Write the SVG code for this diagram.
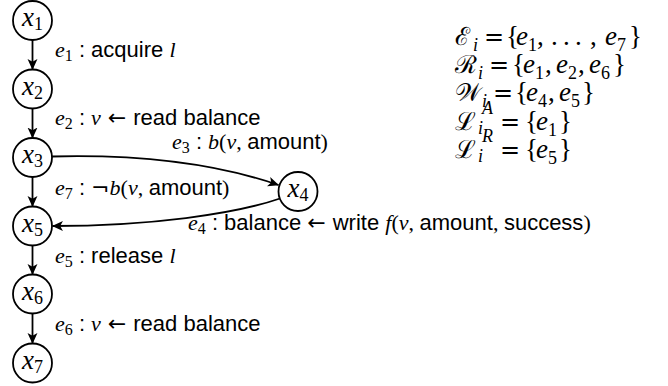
<svg xmlns="http://www.w3.org/2000/svg" width="668" height="386" viewBox="0 0 668 386">
<style>
.node{fill:#fff;stroke:#000;stroke-width:1.8}
.edge{fill:none;stroke:#000;stroke-width:1.8}
text{fill:#000}
.m{font-family:"Liberation Serif","DejaVu Serif",serif;font-style:italic}
.r{font-family:"Liberation Serif","DejaVu Serif",serif;font-style:normal}
.s{font-family:"Liberation Sans","DejaVu Sans",sans-serif;font-style:normal}
.a{font-family:"DejaVu Sans",sans-serif;font-style:normal}
.lbl{font-size:22px}
.nl{font-size:27px;text-anchor:middle}
.sub{font-size:16px;font-style:normal}
.nsub{font-size:18px;font-style:normal}
.set{font-size:27px}
.ssub{font-size:18px}
.eq{font-family:"DejaVu Serif",serif;font-size:24px}
.cal{font-family:"DejaVu Serif","Liberation Serif",serif;font-size:25px;font-style:normal}
</style>
<defs>
<marker id="ah" viewBox="0 0 10 10" refX="9.5" refY="5" markerWidth="11" markerHeight="11" markerUnits="userSpaceOnUse" orient="auto">
<path d="M0,0.5 L10,5 L0,9.5 L2.5,5 Z" fill="#000"/>
</marker>
</defs>
<g id="connectors">
<line class="edge" x1="32.5" y1="40" x2="32.5" y2="69.5" marker-end="url(#ah)"/>
<line class="edge" x1="32.5" y1="108.5" x2="32.5" y2="138" marker-end="url(#ah)"/>
<line class="edge" x1="32.5" y1="177" x2="32.5" y2="206.5" marker-end="url(#ah)"/>
<line class="edge" x1="32.5" y1="245.5" x2="32.5" y2="274.5" marker-end="url(#ah)"/>
<line class="edge" x1="32.5" y1="313.5" x2="32.5" y2="343.5" marker-end="url(#ah)"/>
<path class="edge" d="M52,156.5 C150,154 220,165 278.5,185" marker-end="url(#ah)"/>
<path class="edge" d="M280,198.5 C235,214 150,226 52.5,226" marker-end="url(#ah)"/>
</g>
<g id="labels" class="lbl">
<text x="55" y="57"><tspan class="m">e</tspan><tspan class="r sub" dy="4">1</tspan><tspan class="s" dy="-4"> : acquire </tspan><tspan class="m">l</tspan></text>
<text x="55" y="125"><tspan class="m">e</tspan><tspan class="r sub" dy="4">2</tspan><tspan class="s" dy="-4"> : </tspan><tspan class="m">v</tspan><tspan class="a"> ← </tspan><tspan class="s">read balance</tspan></text>
<text x="172" y="149"><tspan class="m">e</tspan><tspan class="r sub" dy="4">3</tspan><tspan class="s" dy="-4"> : </tspan><tspan class="m">b</tspan><tspan class="r">(</tspan><tspan class="m">v</tspan><tspan class="r">, </tspan><tspan class="s">amount</tspan><tspan class="r">)</tspan></text>
<text x="55" y="195"><tspan class="m">e</tspan><tspan class="r sub" dy="4">7</tspan><tspan class="s" dy="-4"> : </tspan><tspan class="a">¬</tspan><tspan class="m">b</tspan><tspan class="r">(</tspan><tspan class="m">v</tspan><tspan class="r">, </tspan><tspan class="s">amount</tspan><tspan class="r">)</tspan></text>
<text x="188" y="230"><tspan class="m">e</tspan><tspan class="r sub" dy="4">4</tspan><tspan class="s" dy="-4"> : balance </tspan><tspan class="a">← </tspan><tspan class="s">write </tspan><tspan class="m">f</tspan><tspan class="r">(</tspan><tspan class="m">v</tspan><tspan class="r">, </tspan><tspan class="s">amount</tspan><tspan class="r">, </tspan><tspan class="s">success</tspan><tspan class="r">)</tspan></text>
<text x="55" y="263"><tspan class="m">e</tspan><tspan class="r sub" dy="4">5</tspan><tspan class="s" dy="-4"> : release </tspan><tspan class="m">l</tspan></text>
<text x="55" y="331"><tspan class="m">e</tspan><tspan class="r sub" dy="4">6</tspan><tspan class="s" dy="-4"> : </tspan><tspan class="m">v</tspan><tspan class="a"> ← </tspan><tspan class="s">read balance</tspan></text>
</g>
<g id="x1"><circle class="node" cx="32.5" cy="20.5" r="19.5"/><text class="nl" x="32.5" y="26"><tspan class="m">x</tspan><tspan class="r nsub" dy="4">1</tspan></text></g>
<g id="x2"><circle class="node" cx="32.5" cy="89" r="19.5"/><text class="nl" x="32.5" y="94.5"><tspan class="m">x</tspan><tspan class="r nsub" dy="4">2</tspan></text></g>
<g id="x3"><circle class="node" cx="32.5" cy="157.5" r="19.5"/><text class="nl" x="32.5" y="163"><tspan class="m">x</tspan><tspan class="r nsub" dy="4">3</tspan></text></g>
<g id="x4"><circle class="node" cx="298" cy="191.5" r="19.5"/><text class="nl" x="298" y="197"><tspan class="m">x</tspan><tspan class="r nsub" dy="4">4</tspan></text></g>
<g id="x5"><circle class="node" cx="32.5" cy="226" r="19.5"/><text class="nl" x="32.5" y="231.5"><tspan class="m">x</tspan><tspan class="r nsub" dy="4">5</tspan></text></g>
<g id="x6"><circle class="node" cx="32.5" cy="294" r="19.5"/><text class="nl" x="32.5" y="299.5"><tspan class="m">x</tspan><tspan class="r nsub" dy="4">6</tspan></text></g>
<g id="x7"><circle class="node" cx="32.5" cy="363" r="19.5"/><text class="nl" x="32.5" y="368.5"><tspan class="m">x</tspan><tspan class="r nsub" dy="4">7</tspan></text></g>
<g id="sets" class="set">
<text y="45"><tspan class="cal" x="455">ℰ</tspan><tspan class="m ssub" x="473" dy="6">i</tspan><tspan class="eq" x="484" dy="-6">=</tspan><tspan class="r" x="506">{</tspan><tspan class="m" x="516">e</tspan><tspan class="r ssub" x="528" dy="6">1</tspan><tspan class="r" x="537" dy="-6">,</tspan><tspan class="r" x="551">.</tspan><tspan class="r" x="563">.</tspan><tspan class="r" x="575">.</tspan><tspan class="r" x="590">,</tspan><tspan class="m" x="605">e</tspan><tspan class="r ssub" x="617" dy="6">7</tspan><tspan class="r" x="629" dy="-6">}</tspan></text>
<text y="73"><tspan class="cal" x="455">ℛ</tspan><tspan class="m ssub" x="478" dy="6">i</tspan><tspan class="eq" x="489" dy="-6">=</tspan><tspan class="r" x="512">{</tspan><tspan class="m" x="523">e</tspan><tspan class="r ssub" x="535" dy="6">1</tspan><tspan class="r" x="545" dy="-6">,</tspan><tspan class="m" x="556">e</tspan><tspan class="r ssub" x="568" dy="6">2</tspan><tspan class="r" x="578" dy="-6">,</tspan><tspan class="m" x="589">e</tspan><tspan class="r ssub" x="601" dy="6">6</tspan><tspan class="r" x="613" dy="-6">}</tspan></text>
<text y="101"><tspan class="cal" x="455">𝒲</tspan><tspan class="m ssub" x="482" dy="6">i</tspan><tspan class="eq" x="493" dy="-6">=</tspan><tspan class="r" x="515">{</tspan><tspan class="m" x="526">e</tspan><tspan class="r ssub" x="538" dy="6">4</tspan><tspan class="r" x="548" dy="-6">,</tspan><tspan class="m" x="559">e</tspan><tspan class="r ssub" x="571" dy="6">5</tspan><tspan class="r" x="582" dy="-6">}</tspan></text>
<text y="130"><tspan class="cal" x="455">ℒ</tspan><tspan class="m ssub" x="482" dy="-16">A</tspan><tspan class="m ssub" x="478" dy="20">i</tspan><tspan class="eq" x="500" dy="-4">=</tspan><tspan class="r" x="525">{</tspan><tspan class="m" x="536">e</tspan><tspan class="r ssub" x="548" dy="6">1</tspan><tspan class="r" x="559" dy="-6">}</tspan></text>
<text y="158"><tspan class="cal" x="455">ℒ</tspan><tspan class="m ssub" x="482" dy="-16">R</tspan><tspan class="m ssub" x="478" dy="20">i</tspan><tspan class="eq" x="500" dy="-4">=</tspan><tspan class="r" x="525">{</tspan><tspan class="m" x="536">e</tspan><tspan class="r ssub" x="548" dy="6">5</tspan><tspan class="r" x="559" dy="-6">}</tspan></text>
</g>
</svg>
